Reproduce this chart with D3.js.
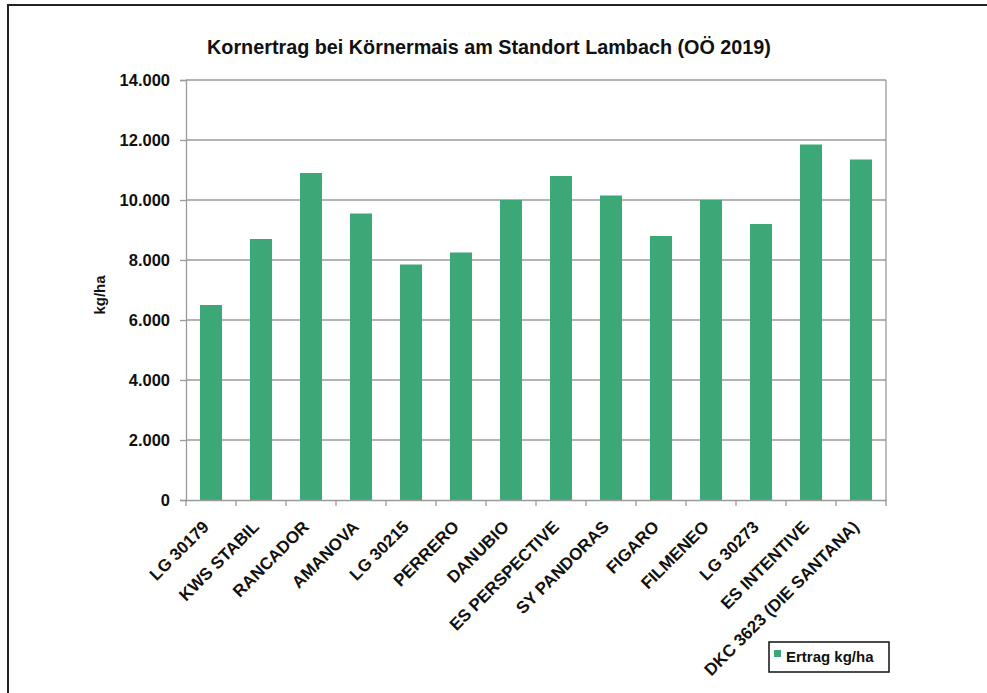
<!DOCTYPE html>
<html><head><meta charset="utf-8">
<script src="https://cdn.jsdelivr.net/npm/d3@7"></script>
<style>
html,body{margin:0;padding:0;background:#fff;}
svg{display:block;}
text{font-family:"Liberation Sans",Arial,sans-serif;font-weight:bold;fill:#111;}
</style></head>
<body>
<svg id="chart" width="987" height="693"></svg>
<script>
const categories = ["LG 30179","KWS STABIL","RANCADOR","AMANOVA","LG 30215","PERRERO","DANUBIO","ES PERSPECTIVE","SY PANDORAS","FIGARO","FILMENEO","LG 30273","ES INTENTIVE","DKC 3623 (DIE SANTANA)"];
const ertrag = [6500,8700,10900,9550,7850,8250,10000,10800,10150,8800,10000,9200,11850,11350];
const yTicks = [0,2000,4000,6000,8000,10000,12000,14000];
const title = "Kornertrag bei Körnermais am Standort Lambach (OÖ 2019)";
const yLabel = "kg/ha";
const seriesName = "Ertrag kg/ha";

const svg = d3.select("#chart");
const m = {left:186, right:886, top:80, bottom:500};
const barColor = "#3ca877";
const gridColor = "#9a9a9a";

// outer frame
svg.append("path").attr("d","M8,700 L8,5 L995,5").attr("fill","none").attr("stroke","#222").attr("stroke-width",2);

const x = d3.scaleBand().domain(categories).range([m.left,m.right]).paddingInner(0.56).paddingOuter(0.28);
const y = d3.scaleLinear().domain([0,14000]).range([m.bottom,m.top]);
const fmt = v => d3.format(",")(v).replace(/,/g,".");

// gridlines
svg.append("g").selectAll("line").data(yTicks.filter(t=>t>0)).join("line")
  .attr("x1",m.left).attr("x2",m.right).attr("y1",d=>y(d)).attr("y2",d=>y(d))
  .attr("stroke",gridColor).attr("stroke-width",1.3);
// right border of plot area
svg.append("line").attr("x1",m.right).attr("x2",m.right).attr("y1",m.top).attr("y2",m.bottom)
  .attr("stroke",gridColor).attr("stroke-width",1.3);

// bars
svg.append("g").selectAll("rect").data(ertrag).join("rect")
  .attr("x",(d,i)=>x(categories[i])).attr("width",x.bandwidth())
  .attr("y",d=>y(d)).attr("height",d=>y(0)-y(d)).attr("fill",barColor);

// y axis
const yAxis = svg.append("g").attr("transform",`translate(${m.left},0)`)
  .call(d3.axisLeft(y).tickValues(yTicks).tickFormat(fmt).tickSize(6).tickPadding(10));
yAxis.select(".domain").attr("stroke",gridColor).attr("stroke-width",1.3);
yAxis.selectAll(".tick line").attr("stroke",gridColor).attr("stroke-width",1.3);
yAxis.selectAll(".tick text").attr("font-size",16.5).attr("font-family","Liberation Sans").attr("font-weight","bold").attr("fill","#111");

// x axis
const xAxis = svg.append("g").attr("transform",`translate(0,${m.bottom})`)
  .call(d3.axisBottom(x).tickSize(0).tickFormat(""));
xAxis.select(".domain").attr("stroke",gridColor).attr("stroke-width",1.3);
// category boundary ticks
const bounds = d3.range(categories.length+1).map(i=>m.left + i*x.step());
svg.append("g").selectAll("line").data(bounds).join("line")
  .attr("x1",d=>d).attr("x2",d=>d).attr("y1",m.bottom).attr("y2",m.bottom+6)
  .attr("stroke",gridColor).attr("stroke-width",1.3);
// category labels
svg.append("g").selectAll("text").data(categories).join("text")
  .attr("transform",d=>`translate(${x(d)+x.bandwidth()/2-1},${m.bottom+28}) rotate(-45)`)
  .attr("text-anchor","end").attr("font-size",17).text(d=>d);

// y label
svg.append("text").attr("transform",`translate(105,295) rotate(-90)`)
  .attr("text-anchor","middle").attr("font-size",15).text(yLabel);

// title
svg.append("text").attr("x",489).attr("y",54).attr("text-anchor","middle")
  .attr("font-size",19.8).text(title);

// legend
const lg = svg.append("g");
lg.append("rect").attr("x",769).attr("y",642).attr("width",120).attr("height",30)
  .attr("fill","#fff").attr("stroke","#111").attr("stroke-width",1.5);
lg.append("rect").attr("x",774).attr("y",650).attr("width",7).attr("height",7).attr("fill",barColor);
lg.append("text").attr("x",786).attr("y",662).attr("font-size",15).text(seriesName);
</script>
</body></html>
